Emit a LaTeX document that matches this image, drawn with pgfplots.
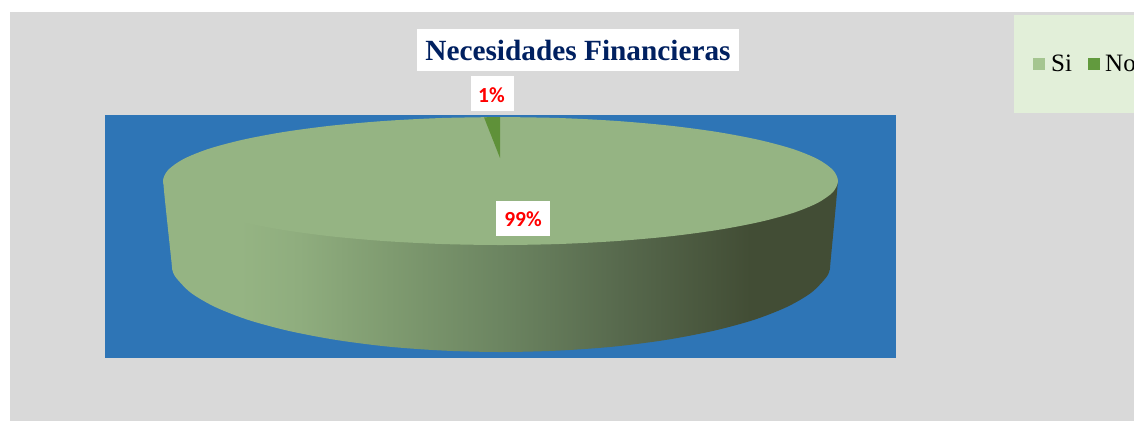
\documentclass[border=0pt]{standalone}
\usepackage{fontspec}
\setmainfont{Liberation Serif}
\newfontfamily\lab{Carlito}
\usepackage{pgfplots}
\pgfplotsset{compat=1.18}
\definecolor{panel}{HTML}{D9D9D9}
\definecolor{plotbg}{HTML}{2E75B6}
\definecolor{legbg}{HTML}{E2EFD9}
\definecolor{pietop}{HTML}{95B483}
\definecolor{wedge}{HTML}{5F9139}
\definecolor{navy}{HTML}{002060}
\definecolor{legsi}{HTML}{A5C590}
\definecolor{legno}{HTML}{629A3E}
\definecolor{HTMLa}{HTML}{8FAD7E}
\definecolor{HTMLb}{HTML}{7F9B70}
\definecolor{HTMLc}{HTML}{6C8561}
\definecolor{HTMLd}{HTML}{57694D}
\definecolor{HTMLe}{HTML}{424D35}
\pgfdeclarehorizontalshading{pieside}{100bp}{
  color(0bp)=(pietop); color(25bp)=(pietop); color(30.7bp)=(pietop);
  color(35.1bp)=(HTMLa); color(41.8bp)=(HTMLb); color(50bp)=(HTMLc);
  color(58.9bp)=(HTMLd); color(68.5bp)=(HTMLe); color(100bp)=(HTMLe)}
\begin{document}
\begin{tikzpicture}
\clip (0,0) rectangle (1134pt,421pt);
\begin{axis}[
  at={(0,0)}, anchor=south west,
  width=1134pt, height=421pt, scale only axis,
  xmin=0, xmax=1134, ymin=0, ymax=421, y dir=reverse,
  axis lines=none, clip=false]
% panel
\addplot[draw=none, fill=panel] coordinates {(10,12)(1134,12)(1134,421)(10,421)} -- cycle;
% legend box
\addplot[draw=none, fill=legbg] coordinates {(1014,15)(1134,15)(1134,113)(1014,113)} -- cycle;
\addplot[draw=none, fill=legsi] coordinates {(1033,58)(1045,58)(1045,70)(1033,70)} -- cycle;
\addplot[draw=none, fill=legno] coordinates {(1088,58)(1100,58)(1100,70)(1088,70)} -- cycle;
% plot area
\addplot[draw=none, fill=plotbg] coordinates {(105,115)(896,115)(896,358)(105,358)} -- cycle;
% pie side
\addplot[draw=none, smooth, shading=pieside] coordinates {
 (165,180)(163.6,186)(171.5,262)(172.3,269.8)(176,277.6)(190.9,292.8)(215.2,307)(248.2,319.9)(288.9,330.9)
 (336,339.9)(388.1,346.6)(443.7,350.6)(501,352)(558.3,350.6)(613.9,346.6)(666,339.9)(713.1,330.9)
 (753.8,319.9)(786.8,307)(811.1,292.8)(826,277.6)(829.7,269.8)(830.5,262)(837.5,186)(836,180)} -- cycle;
% pie top (Si, 99%)
\addplot[draw=none, smooth, fill=pietop] coordinates {
 (500.5,117)(559.1,118)(615.9,120.9)(669.25,125.6)(717.4,132)(759,139.9)(792.8,149)(817.6,159.1)(832.9,170)
 (838,181)(832.9,192.1)(817.6,202.9)(792.8,213)(759,222.1)(717.4,230)(669.25,236.4)(615.9,241.1)(559.1,244)
 (500.5,245)(441.9,244)(385.1,241.1)(331.75,236.4)(283.6,230)(242,222.1)(208.2,213)(183.4,202.9)(168.1,192.1)
 (163,181)(168.1,170)(183.4,159.1)(208.2,149)(242,139.9)(283.6,132)(331.75,125.6)(385.1,120.9)(441.9,118)(500.5,117)} -- cycle;
% wedge (No, 1%)
\addplot[draw=none, fill=wedge] coordinates {(500,117)(500,158)(484,117.3)} -- cycle;
% texts
\node[fill=white, minimum width=322pt, minimum height=42pt, inner sep=0pt, text=navy, font=\fontsize{29.3}{34}\selectfont\bfseries]
  at (axis cs:578,50) {Necesidades Financieras};
\node[fill=white, minimum width=43pt, minimum height=35pt, inner sep=0pt] at (axis cs:492.5,93.5) {};
\node[inner sep=0pt, text=red, font=\fontsize{21.5}{25}\selectfont\lab\bfseries] at (axis cs:491.5,95) {1\%};
\node[fill=white, minimum width=54pt, minimum height=35pt, inner sep=0pt] at (axis cs:523,218) {};
\node[inner sep=0pt, text=red, font=\fontsize{21.5}{25}\selectfont\lab\bfseries] at (axis cs:523,219) {99\%};
\node[anchor=base west, inner sep=0pt, font=\fontsize{25}{30}\selectfont] at (axis cs:1051,71) {Si};
\node[anchor=base west, inner sep=0pt, font=\fontsize{25}{30}\selectfont] at (axis cs:1105,71) {No};
\end{axis}
\end{tikzpicture}
\end{document}
